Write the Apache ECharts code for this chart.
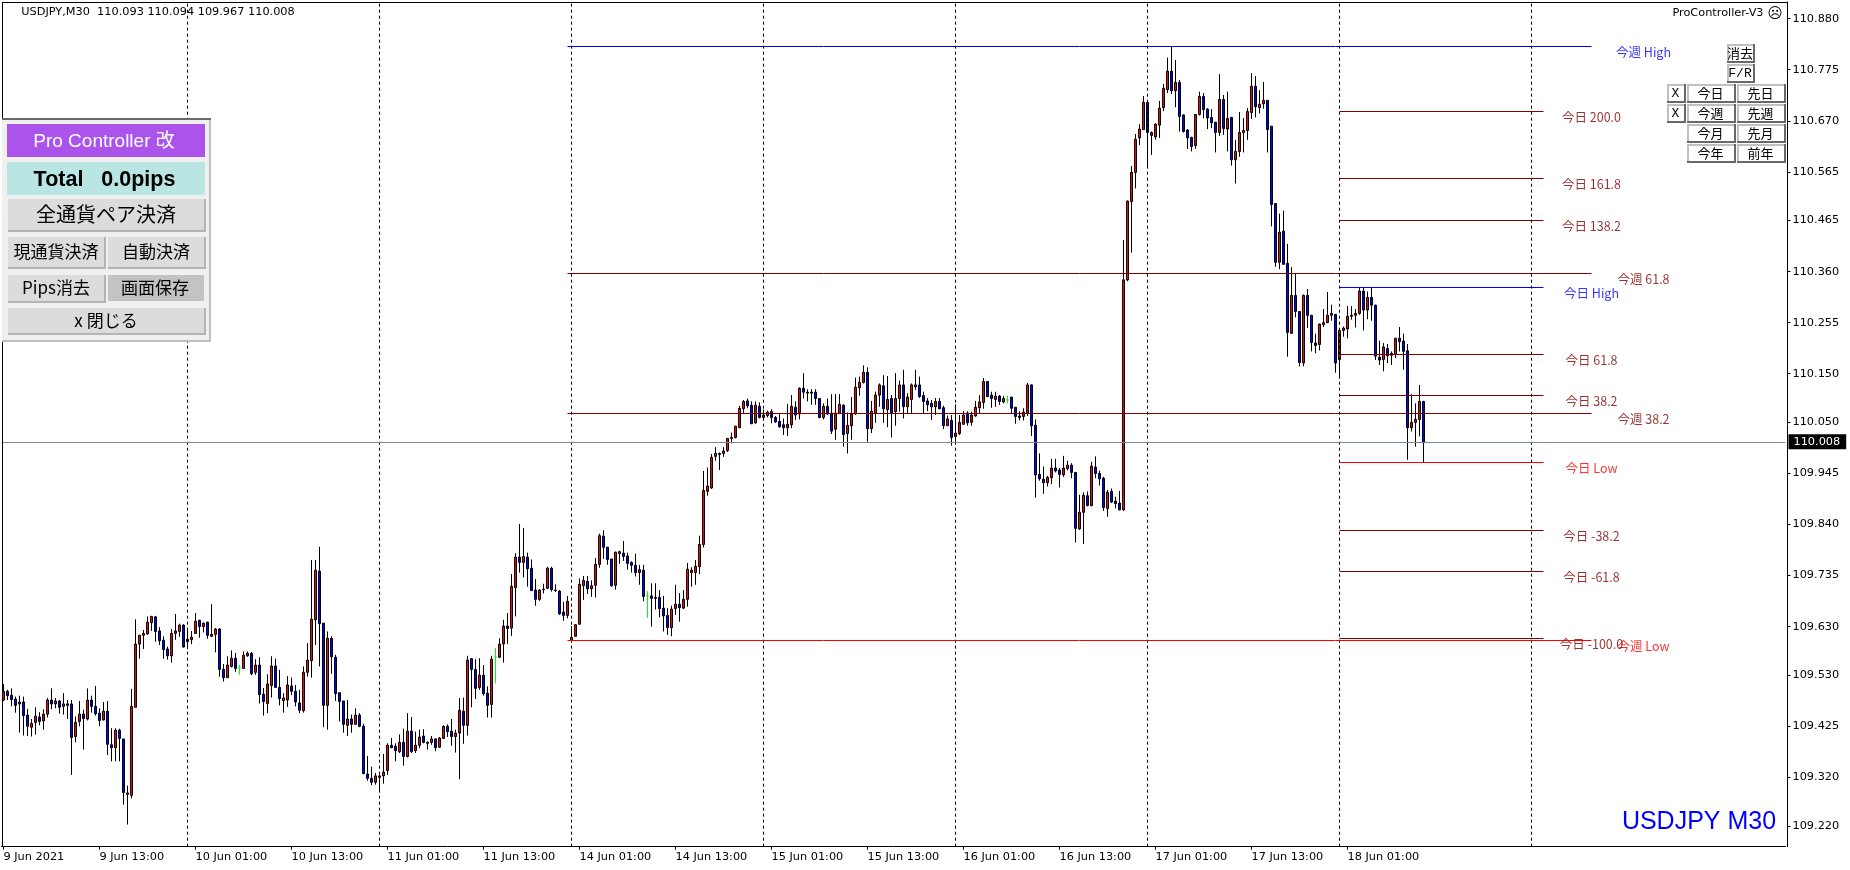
<!DOCTYPE html>
<html><head><meta charset="utf-8">
<style>html,body{margin:0;padding:0;background:#fff}#c{width:1850px;height:870px}</style>
<script src="https://cdn.jsdelivr.net/npm/echarts@6/dist/echarts.min.js"></script>
</head><body><div id="c"></div>
<script>
const opens=[
109.479,109.497,109.489,109.481,109.471,109.475,109.448,109.423,109.433,109.444,
109.436,109.450,109.479,109.471,109.477,109.466,109.468,109.471,109.404,109.435,
109.450,109.440,109.479,109.466,109.452,109.438,109.456,109.387,109.381,109.417,
109.399,109.285,109.283,109.464,109.594,109.612,109.615,109.638,109.650,109.621,
109.602,109.584,109.570,109.616,109.620,109.633,109.599,109.603,109.616,109.643,
109.630,109.639,109.610,109.614,109.625,109.542,109.525,109.548,109.565,109.545,
109.544,109.570,109.575,109.536,109.551,109.491,109.472,109.509,109.549,109.505,
109.478,109.479,109.508,109.497,109.473,109.457,109.536,109.560,109.644,109.744,
109.637,109.468,109.606,109.567,109.494,109.477,109.427,109.440,109.429,109.448,
109.425,109.327,109.318,109.310,109.320,109.323,109.334,109.386,109.384,109.373,
109.392,109.363,109.415,109.375,109.386,109.405,109.392,109.392,109.399,109.382,
109.400,109.425,109.415,109.404,109.411,109.456,109.427,109.564,109.542,109.505,
109.530,109.493,109.470,109.567,109.567,109.594,109.631,109.627,109.710,109.773,
109.762,109.773,109.750,109.705,109.686,109.706,109.709,109.750,109.705,109.703,
109.660,109.653,109.602,109.610,109.635,109.714,109.723,109.708,109.715,109.758,
109.816,109.793,109.769,109.715,109.780,109.781,109.775,109.762,109.756,109.741,
109.746,109.693,109.693,109.688,109.690,109.668,109.653,109.628,109.667,109.676,
109.668,109.686,109.741,109.741,109.753,109.799,109.908,109.915,109.980,109.984,
109.986,109.992,110.017,110.019,110.039,110.078,110.094,110.085,110.049,110.083,
110.060,110.064,110.072,110.060,110.052,110.045,110.039,110.045,110.081,110.067,
110.120,110.110,110.112,110.112,110.099,110.060,110.083,110.069,110.036,110.068,
110.085,110.027,110.043,110.067,110.121,110.132,110.153,110.037,110.069,110.106,
110.125,110.076,110.099,110.072,110.099,110.127,110.082,110.097,110.123,110.127,
110.105,110.094,110.089,110.082,110.093,110.080,110.043,110.054,110.021,110.027,
110.046,110.069,110.050,110.063,110.080,110.091,110.134,110.106,110.097,110.104,
110.092,110.096,110.102,110.081,110.063,110.062,110.069,110.127,110.044,109.943,
109.933,109.926,109.936,109.956,109.952,109.942,109.955,109.962,109.947,109.831,
109.865,109.899,109.879,109.958,109.945,109.935,109.873,109.908,109.888,109.884,
109.870,110.343,110.504,110.564,110.635,110.652,110.708,110.646,110.637,110.661,
110.697,110.734,110.772,110.732,110.749,110.682,110.651,110.636,110.619,110.683,
110.720,110.694,110.677,110.667,110.646,110.714,110.653,110.677,110.590,110.607,
110.646,110.650,110.687,110.741,110.697,110.705,110.712,110.659,110.500,110.379,
110.443,110.377,110.233,110.311,110.278,110.172,110.311,110.270,110.213,110.210,
110.251,110.255,110.270,110.272,110.179,110.239,110.242,110.268,110.270,110.274,
110.320,110.281,110.307,110.291,110.184,110.179,110.202,110.188,110.190,110.223,
110.217,110.197,110.039,110.050,110.056,110.093];
const closes=[
109.497,109.488,109.480,109.468,109.475,109.447,109.425,109.431,109.446,109.435,
109.450,109.479,109.471,109.477,109.464,109.471,109.471,109.402,109.433,109.450,
109.441,109.479,109.466,109.451,109.437,109.456,109.388,109.381,109.417,109.400,
109.289,109.288,109.466,109.594,109.612,109.616,109.639,109.651,109.620,109.601,
109.583,109.570,109.616,109.621,109.633,109.588,109.604,109.608,109.641,109.630,
109.637,109.612,109.614,109.625,109.542,109.525,109.551,109.565,109.544,109.545,
109.571,109.575,109.533,109.551,109.490,109.476,109.512,109.549,109.505,109.482,
109.483,109.510,109.497,109.475,109.458,109.536,109.561,109.645,109.746,109.636,
109.468,109.606,109.568,109.492,109.476,109.429,109.440,109.429,109.448,109.425,
109.328,109.318,109.310,109.323,109.323,109.331,109.386,109.381,109.375,109.392,
109.363,109.415,109.373,109.386,109.403,109.392,109.390,109.399,109.381,109.401,
109.425,109.414,109.404,109.411,109.458,109.427,109.561,109.542,109.503,109.530,
109.492,109.468,109.563,109.567,109.594,109.631,109.626,109.713,109.773,109.762,
109.774,109.749,109.704,109.686,109.705,109.707,109.750,109.706,109.704,109.656,
109.653,109.682,109.608,109.634,109.717,109.725,109.708,109.714,109.758,109.817,
109.793,109.768,109.714,109.783,109.784,109.774,109.760,109.756,109.741,109.747,
109.692,109.693,109.688,109.690,109.667,109.652,109.628,109.666,109.676,109.669,
109.686,109.748,109.746,109.754,109.799,109.910,109.919,109.978,109.986,109.986,
109.991,110.017,110.019,110.042,110.079,110.093,110.084,110.047,110.085,110.060,
110.065,110.071,110.060,110.051,110.041,110.039,110.046,110.083,110.065,110.120,
110.112,110.112,110.110,110.099,110.060,110.083,110.067,110.032,110.069,110.087,
110.025,110.044,110.067,110.122,110.132,110.153,110.037,110.073,110.106,110.127,
110.078,110.097,110.069,110.099,110.127,110.082,110.102,110.127,110.127,110.103,
110.093,110.086,110.082,110.093,110.078,110.043,110.057,110.019,110.028,110.050,
110.065,110.049,110.065,110.081,110.092,110.134,110.103,110.099,110.104,110.093,
110.099,110.096,110.079,110.062,110.060,110.071,110.127,110.043,109.942,109.934,
109.926,109.937,109.956,109.950,109.943,109.956,109.962,109.947,109.832,109.865,
109.900,109.879,109.960,109.945,109.934,109.875,109.906,109.886,109.883,109.870,
110.343,110.505,110.564,110.632,110.653,110.708,110.646,110.640,110.663,110.696,
110.737,110.772,110.732,110.749,110.679,110.648,110.635,110.617,110.683,110.720,
110.693,110.676,110.666,110.646,110.714,110.654,110.675,110.590,110.607,110.646,
110.650,110.689,110.741,110.699,110.704,110.712,110.652,110.498,110.379,110.441,
110.375,110.235,110.311,110.278,110.173,110.311,110.270,110.214,110.208,110.252,
110.255,110.270,110.274,110.172,110.239,110.244,110.268,110.270,110.274,110.320,
110.281,110.307,110.291,110.186,110.178,110.205,110.187,110.192,110.223,110.216,
110.196,110.039,110.050,110.056,110.093,110.008];
const highs=[
109.512,109.500,109.503,109.486,109.488,109.486,109.461,109.440,109.464,109.454,
109.460,109.483,109.503,109.483,109.479,109.493,109.479,109.479,109.445,109.477,
109.459,109.503,109.488,109.508,109.462,109.475,109.477,109.421,109.421,109.420,
109.399,109.303,109.502,109.645,109.613,109.623,109.651,109.652,109.652,109.629,
109.610,109.589,109.625,109.656,109.636,109.635,109.623,109.621,109.658,109.644,
109.638,109.640,109.676,109.627,109.627,109.553,109.569,109.581,109.576,109.551,
109.579,109.579,109.578,109.563,109.567,109.504,109.532,109.569,109.564,109.541,
109.493,109.528,109.525,109.510,109.500,109.548,109.596,109.767,109.767,109.794,
109.637,109.620,109.610,109.572,109.495,109.477,109.479,109.449,109.462,109.452,
109.430,109.364,109.342,109.329,109.325,109.368,109.390,109.401,109.390,109.408,
109.420,109.452,109.444,109.414,109.418,109.419,109.394,109.405,109.400,109.403,
109.427,109.429,109.440,109.418,109.483,109.484,109.570,109.565,109.563,109.565,
109.551,109.507,109.570,109.586,109.606,109.644,109.658,109.738,109.781,109.841,
109.833,109.782,109.768,109.728,109.707,109.718,109.753,109.753,109.717,109.705,
109.681,109.693,109.631,109.635,109.729,109.734,109.734,109.725,109.771,109.821,
109.828,109.794,109.769,109.784,109.786,109.806,109.782,109.764,109.780,109.757,
109.757,109.703,109.719,109.719,109.705,109.693,109.668,109.673,109.716,109.699,
109.705,109.761,109.752,109.767,109.817,109.950,109.957,109.985,109.999,109.988,
109.999,110.017,110.029,110.043,110.084,110.096,110.099,110.093,110.093,110.091,
110.076,110.074,110.077,110.063,110.067,110.058,110.088,110.106,110.093,110.122,
110.151,110.118,110.118,110.118,110.099,110.089,110.099,110.108,110.108,110.108,
110.087,110.070,110.102,110.142,110.144,110.167,110.163,110.094,110.113,110.130,
110.147,110.145,110.106,110.151,110.136,110.158,110.110,110.130,110.158,110.144,
110.113,110.100,110.096,110.100,110.100,110.084,110.064,110.065,110.087,110.065,
110.073,110.073,110.072,110.094,110.106,110.141,110.135,110.113,110.113,110.106,
110.104,110.105,110.102,110.081,110.073,110.079,110.131,110.128,110.056,109.986,
109.959,109.940,109.975,109.975,109.956,109.981,109.971,109.966,109.947,109.901,
109.906,109.908,109.969,109.980,109.951,109.938,109.911,109.914,109.897,109.909,
110.425,110.506,110.577,110.643,110.663,110.721,110.709,110.648,110.665,110.711,
110.746,110.800,110.824,110.795,110.754,110.683,110.653,110.637,110.684,110.730,
110.727,110.696,110.694,110.668,110.766,110.723,110.730,110.678,110.631,110.688,
110.676,110.696,110.768,110.762,110.733,110.750,110.713,110.659,110.500,110.479,
110.485,110.417,110.369,110.357,110.279,110.313,110.324,110.271,110.232,110.253,
110.283,110.318,110.292,110.272,110.243,110.247,110.289,110.289,110.283,110.328,
110.328,110.319,110.328,110.292,110.218,110.213,110.211,110.196,110.223,110.246,
110.232,110.211,110.108,110.089,110.127,110.094];
const lows=[
109.477,109.479,109.466,109.453,109.412,109.406,109.405,109.404,109.408,109.427,
109.418,109.443,109.460,109.462,109.451,109.449,109.440,109.325,109.392,109.425,
109.377,109.437,109.453,109.447,109.425,109.437,109.366,109.353,109.353,109.353,
109.264,109.223,109.277,109.464,109.564,109.584,109.613,109.621,109.599,109.592,
109.564,109.562,109.556,109.603,109.609,109.587,109.584,109.594,109.615,109.607,
109.618,109.605,109.610,109.577,109.527,109.517,109.525,109.546,109.537,109.531,
109.543,109.568,109.530,109.531,109.472,109.447,109.452,109.484,109.505,109.468,
109.453,109.465,109.489,109.466,109.452,109.453,109.527,109.525,109.592,109.548,
109.423,109.418,109.533,109.477,109.435,109.412,109.405,109.412,109.428,109.423,
109.326,109.313,109.304,109.305,109.293,109.307,109.325,109.380,109.353,109.370,
109.344,109.361,109.370,109.370,109.380,109.390,109.377,109.387,109.374,109.381,
109.399,109.403,109.385,109.371,109.316,109.389,109.406,109.464,109.481,109.500,
109.488,109.443,109.443,109.513,109.565,109.556,109.594,109.611,109.651,109.741,
109.731,109.712,109.703,109.673,109.683,109.698,109.707,109.702,109.701,109.654,
109.642,109.647,109.601,109.610,109.634,109.685,109.697,109.691,109.690,109.751,
109.769,109.757,109.712,109.706,109.759,109.765,109.747,109.741,109.733,109.716,
109.682,109.648,109.630,109.665,109.649,109.620,109.613,109.610,109.654,109.640,
109.666,109.671,109.712,109.716,109.738,109.793,109.899,109.913,109.971,109.952,
109.979,109.989,110.007,110.017,110.038,110.069,110.079,110.047,110.047,110.058,
110.055,110.060,110.048,110.049,110.039,110.024,110.022,110.038,110.055,110.056,
110.099,110.093,110.086,110.086,110.058,110.056,110.065,110.026,110.014,110.067,
110.000,109.986,110.014,110.065,110.105,110.130,110.010,110.028,110.049,110.082,
110.049,110.040,110.019,110.043,110.072,110.058,110.069,110.069,110.117,110.100,
110.069,110.073,110.055,110.065,110.077,110.036,110.043,110.002,110.007,110.024,
110.045,110.043,110.043,110.062,110.069,110.078,110.102,110.080,110.082,110.086,
110.089,110.089,110.069,110.047,110.054,110.054,110.063,110.022,109.895,109.930,
109.903,109.918,109.923,109.947,109.916,109.938,109.951,109.935,109.803,109.829,
109.800,109.877,109.877,109.935,109.920,109.868,109.856,109.884,109.873,109.869,
109.868,110.340,110.399,110.531,110.620,110.651,110.574,110.600,110.631,110.635,
110.690,110.727,110.725,110.698,110.648,110.646,110.612,110.607,110.612,110.681,
110.675,110.653,110.655,110.605,110.639,110.641,110.607,110.578,110.541,110.596,
110.605,110.631,110.674,110.677,110.685,110.695,110.605,110.453,110.370,110.365,
110.374,110.185,110.232,110.266,110.165,110.165,110.244,110.196,110.192,110.198,
110.246,110.254,110.259,110.152,110.144,110.226,110.223,110.261,110.245,110.271,
110.239,110.262,110.259,110.178,110.168,110.155,110.172,110.168,110.182,110.196,
110.158,109.973,110.031,110.000,110.021,109.967];
const dojiBars=[59,123,161,251];
const timeLabels=['9 Jun 2021','9 Jun 13:00','10 Jun 01:00','10 Jun 13:00','11 Jun 01:00','11 Jun 13:00','14 Jun 01:00','14 Jun 13:00','15 Jun 01:00','15 Jun 13:00','16 Jun 01:00','16 Jun 13:00','17 Jun 01:00','17 Jun 13:00','18 Jun 01:00'];
const priceTicks=[110.880,110.775,110.670,110.565,110.465,110.360,110.255,110.150,110.050,109.945,109.840,109.735,109.630,109.530,109.425,109.320,109.220];
const daySeparators=[46,94,142,190,238,286,334,382];
const levelNames=['今週 High','今週 61.8','今週 38.2','今週 Low','今日 200.0','今日 161.8','今日 138.2','今日 High','今日 61.8','今日 38.2','今日 Low','今日 -38.2','今日 -61.8','今日 -100.0'];
const levelValues=[110.824,110.356,110.069,109.602,110.690,110.552,110.465,110.328,110.190,110.106,109.968,109.828,109.744,109.606];
const lastPrice=110.008;

const BAR_SLOTS=446;
const categories=[];
for(let i=0;i<BAR_SLOTS;i++) categories.push(i%24===0&&timeLabels[i/24]?timeLabels[i/24]:'');
const tickShown=(i)=>i%24===0&&i<timeLabels.length*24;
const candle=opens.map((o,i)=>{
  const v=[o,closes[i],lows[i],highs[i]];
  return dojiBars.includes(i)?{value:v,itemStyle:{borderColor:'#00ff00',borderColor0:'#00ff00',borderColorDoji:'#00ff00'}}:v;
});
const levelColor=(n)=>/High/.test(n)?'#0000ff':/Low/.test(n)?'#ff0000':'#800000';
const isWeek=(n)=>n.startsWith('今週');
const ml=[];
daySeparators.forEach(x=>ml.push({xAxis:x,lineStyle:{color:'#000',type:[3,3],width:1}}));
ml.push({yAxis:lastPrice,lineStyle:{color:'#778899',type:'solid',width:1},label:{show:true,position:'end',distance:3,formatter:lastPrice.toFixed(3),color:'#fff',backgroundColor:'#000',padding:[2,6,2,5],fontFamily:'DejaVu Sans',fontSize:11.3}});
levelNames.forEach((n,k)=>{
  const w=isWeek(n);
  ml.push([{coord:[w?141:334,levelValues[k]],lineStyle:{color:levelColor(n),type:'solid',width:1}},{coord:[w?397:385,levelValues[k]]}]);
});
const labelData=levelNames.map((n,k)=>({name:n,value:[isWeek(n)?410:397,levelValues[k]],label:{color:levelColor(n)}}));

const G=[];
const rect=(x,y,w,h,fill)=>G.push({type:'rect',z:100,silent:true,shape:{x,y,width:w,height:h},style:{fill}});
const text=(cx,cy,t,size,fill,font,weight)=>G.push({type:'text',z:101,silent:true,x:cx,y:cy,style:{text:t,fill:fill||'#000',font:(weight||'normal')+' '+size+'px '+(font||'"Noto Sans CJK JP"'),textAlign:'center',textVerticalAlign:'middle'}});
// frame
rect(2,2,1785,1,'#000');rect(2,2,1,845,'#000');
// left panel
rect(2,118,209,224,'#c0c0c0');rect(2,120,207,220,'#f0f0f0');rect(2,118,209,2,'#696969');
rect(7,124,198,33,'#ab54ec');text(104,141.5,'Pro Controller 改',19,'#fff','"Liberation Sans","Noto Sans CJK JP"');
rect(7,162,198,33,'#b9e6e3');text(104.5,180,'Total   0.0pips',21.5,'#000','"Liberation Sans"','bold');
const pb=(x,y,w,h,t,size,fill,edge,dy)=>{rect(x,y,w,h,edge||'#b4b4b4');rect(x,y,w-2,h-2,fill||'#dcdcdc');text(x+w/2-1,y+h/2-1+(dy||0),t,size,'#000');};
pb(8,199,198,33,'全通貨ペア決済',20);
pb(8,237,98,32,'現通貨決済',17);pb(108,237,98,32,'自動決済',17);
pb(8,275,98,28,'Pips消去',17);pb(108,275,96,26,'画面保存',17,'#c3c3c3','#c3c3c3',1);
pb(8,308,198,27,'x 閉じる',17);
// right button panel
const rb=(x,y,w,h,t,font)=>{rect(x,y,w,h,'#696969');rect(x,y,w-2,h-2,'#c0c0c0');rect(x+2,y+2,w-4,h-4,'#fff');text(x+w/2-1,y+h/2,t,13,'#000',font);};
rb(1727,44,28,19,'消去');rb(1727,64,28,19,'F/R','"Liberation Mono"');
rb(1667,84,19,19,'X','"Liberation Mono"');rb(1667,104,19,19,'X','"Liberation Mono"');
[[84,'今日','先日'],[104,'今週','先週'],[124,'今月','先月'],[144,'今年','前年']].forEach(r=>{rb(1687,r[0],49,19,r[1]);rb(1737,r[0],49,19,r[2]);});
// corner captions
text(158,12.5,'USDJPY,M30  110.093 110.094 109.967 110.008',11.3,'#000','"DejaVu Sans"');
text(1718,13.5,'ProController-V3',11.3,'#000','"DejaVu Sans"');
text(1775,14,'☹',15,'#000','"DejaVu Sans"');
text(1699,822,'USDJPY M30',25,'#0000ff','"Liberation Sans"');

const chart=echarts.init(document.getElementById('c'),null,{renderer:'canvas'});
chart.setOption({
  animation:false,backgroundColor:'#fff',
  grid:{left:1.5,top:2,width:1784,height:844.7},
  xAxis:{type:'category',data:categories,boundaryGap:true,
    axisLine:{show:true,lineStyle:{color:'#000',width:1}},
    axisTick:{show:true,alignWithLabel:true,interval:tickShown,length:3,lineStyle:{color:'#000'}},
    axisLabel:{show:true,interval:tickShown,align:'left',margin:5,color:'#000',fontFamily:'DejaVu Sans',fontSize:11.3},
    splitLine:{show:false}},
  yAxis:{type:'value',position:'right',offset:2,min:109.1774,max:110.9143,scale:true,
    axisLine:{show:true,onZero:false,lineStyle:{color:'#000',width:1}},
    axisTick:{show:true,length:3,customValues:priceTicks,lineStyle:{color:'#000'}},
    axisLabel:{show:true,customValues:priceTicks,margin:5,color:'#000',fontFamily:'DejaVu Sans',fontSize:11.3,formatter:(v)=>v.toFixed(3)},
    splitLine:{show:false}},
  graphic:{elements:G},
  tooltip:{show:false},legend:{show:false},
  series:[
   {type:'scatter',name:'levels',z:2,symbolSize:0,silent:true,data:labelData,
    label:{show:true,position:'inside',offset:[0,6],formatter:'{b}',fontFamily:'"Noto Sans CJK JP"',fontSize:12.5},
    markLine:{silent:true,animation:false,symbol:['none','none'],label:{show:false},emphasis:{disabled:true},data:ml}},
   {type:'candlestick',name:'USDJPY',z:3,barWidth:2,silent:true,data:candle,
    itemStyle:{color:'#ff0000',color0:'#0000ff',borderColor:'#000',borderColor0:'#000',borderColorDoji:'#000',borderWidth:1}}
  ]
});
</script></body></html>
